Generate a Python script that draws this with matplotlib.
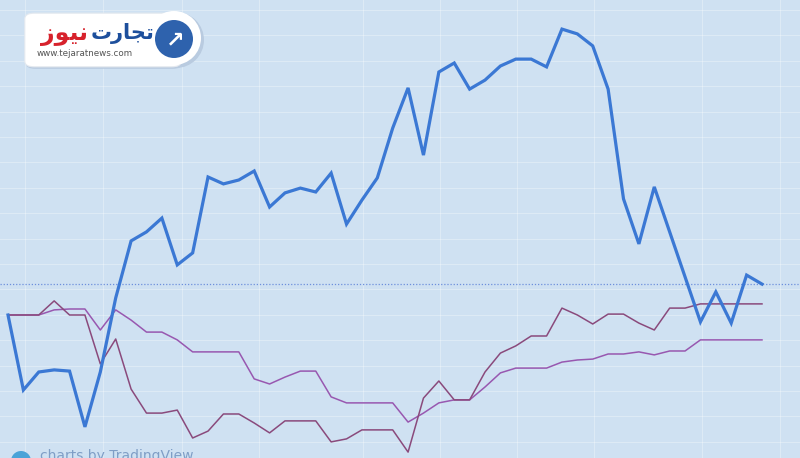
import numpy as np
import matplotlib
matplotlib.use('Agg')
import matplotlib.pyplot as plt
from matplotlib.patches import FancyBboxPatch, Ellipse

# percent change from the first point
blue = [0, -25.0, -19.0, -18.3, -18.7, -37.3, -19.0, 5.7, 24.7, 27.7,
        32.3, 16.7, 20.7, 46.0, 43.7, 45.0, 48.0, 36.0, 40.7, 42.3,
        41.0, 47.3, 30.3, 38.3, 45.7, 62.3, 75.7, 53.3, 81.0, 84.0,
        75.3, 78.3, 83.0, 85.3, 85.3, 82.7, 95.3, 93.7, 89.7, 75.3,
        38.7, 23.7, 42.7, 27.7, 12.7, -2.3, 7.7, -2.7, 13.3, 10.3]
mauve = [0, 0, 0, 4.7, 0, 0, -16.3, -8.0, -24.7, -32.7,
         -32.7, -31.7, -41.0, -38.7, -33.0, -33.0, -36.0, -39.3, -35.3, -35.3,
         -35.3, -42.3, -41.3, -38.3, -38.3, -38.3, -45.7, -27.7, -22.0, -28.3,
         -28.3, -19.0, -12.7, -10.3, -7.0, -7.0, 2.3, 0.0, -3.0, 0.3,
         0.3, -2.7, -5.0, 2.3, 2.3, 3.7, 3.7, 3.7, 3.7, 3.7]
violet = [0, 0, 0, 1.7, 2.0, 2.0, -5.0, 1.7, -1.7, -5.7,
          -5.7, -8.3, -12.3, -12.3, -12.3, -12.3, -21.3, -23.0, -20.7, -18.7,
          -18.7, -27.3, -29.3, -29.3, -29.3, -29.3, -35.7, -32.7, -29.3, -28.3,
          -28.3, -24.0, -19.3, -17.7, -17.7, -17.7, -15.7, -15.0, -14.7, -13.0,
          -13.0, -12.3, -13.3, -12.0, -12.0, -8.3, -8.3, -8.3, -8.3, -8.3]

x = np.arange(len(blue))
bg = '#cfe1f2'

fig = plt.figure(figsize=(8, 4.58), dpi=100, facecolor=bg)
ax = fig.add_axes([0, 0, 1, 1])
ax.set_facecolor(bg)
ax.set_xlim(-0.52, 51.47)
ax.set_ylim(-47.67, 105)

# faint grid
for gy in np.arange(101.7, -48, -8.47):
    ax.axhline(gy, color='white', lw=0.8, alpha=0.3, zorder=0)
for gx in [1.1, 6.2, 11.3, 16.3, 23.1, 28.1, 33.1, 38.1, 45.1, 50.2]:
    ax.axvline(gx, color='white', lw=0.8, alpha=0.3, zorder=0)

ax.plot(x, violet, color='#9858b0', lw=1.1, zorder=2)
ax.plot(x, mauve, color='#8a4a7c', lw=1.1, zorder=3)
ax.plot(x, blue, color='#3b78d4', lw=2.3, zorder=4, solid_joinstyle='miter')
# last value line
ax.axhline(blue[-1], color='#6d8fdc', lw=0.9, ls=(0, (1, 1.5)), zorder=1)

for s in ax.spines.values():
    s.set_visible(False)
ax.set_xticks([])
ax.set_yticks([])


def fx(px):
    return px / 800.0


def fy(py):
    return 1 - py / 458.0


def disc(cx, cy, r, color, z):
    # round circle given in pixels
    e = Ellipse((fx(cx), fy(cy)), 2 * r / 800.0, 2 * r / 458.0,
                transform=fig.transFigure, fc=color, ec='none', zorder=z)
    fig.patches.append(e)


# logo box
shadow = FancyBboxPatch((fx(29), fy(67)), fx(150), 50 / 458.0,
                        boxstyle='round,pad=0.004,rounding_size=0.012',
                        transform=fig.transFigure, fc='#b9cbe0', ec='none', zorder=5)
fig.patches.append(shadow)
disc(176, 40, 28, '#b9cbe0', 5)
box = FancyBboxPatch((fx(28), fy(65)), fx(150), 50 / 458.0,
                     boxstyle='round,pad=0.004,rounding_size=0.012',
                     transform=fig.transFigure, fc='white', ec='#e4e9ef', lw=0.8, zorder=6)
fig.patches.append(box)
disc(174, 38, 27, 'white', 6)
disc(174, 39, 19, '#2e62ad', 7)
fig.text(fx(175), fy(40), '\u2197', color='white', fontsize=16, fontweight='bold',
         ha='center', va='center', zorder=8)

# تجارت نیوز written in presentation forms, visual order
fig.text(fx(122), fy(33), '\ufe95\ufead\ufe8e\ufea0\ufe97', color='#1d4f9c',
         fontsize=15, fontweight='bold', ha='center', va='center',
         family='DejaVu Sans', zorder=8)
fig.text(fx(65), fy(34), '\ufeaf\ufeee\ufef4\ufee7', color='#d7222c',
         fontsize=17, fontweight='bold', ha='center', va='center',
         family='DejaVu Sans', zorder=8)
fig.text(fx(37), fy(54), 'www.tejaratnews.com', color='#555555', fontsize=6.3,
         ha='left', va='center', zorder=8)

# tradingview credit at the bottom, cut off
disc(21, 461, 10, '#4aa3d8', 5)
fig.text(fx(40), fy(449), 'charts by TradingView', color='#7f9ec6', fontsize=10,
         ha='left', va='top', zorder=5)

fig.savefig('out.png', dpi=100, facecolor=bg)
